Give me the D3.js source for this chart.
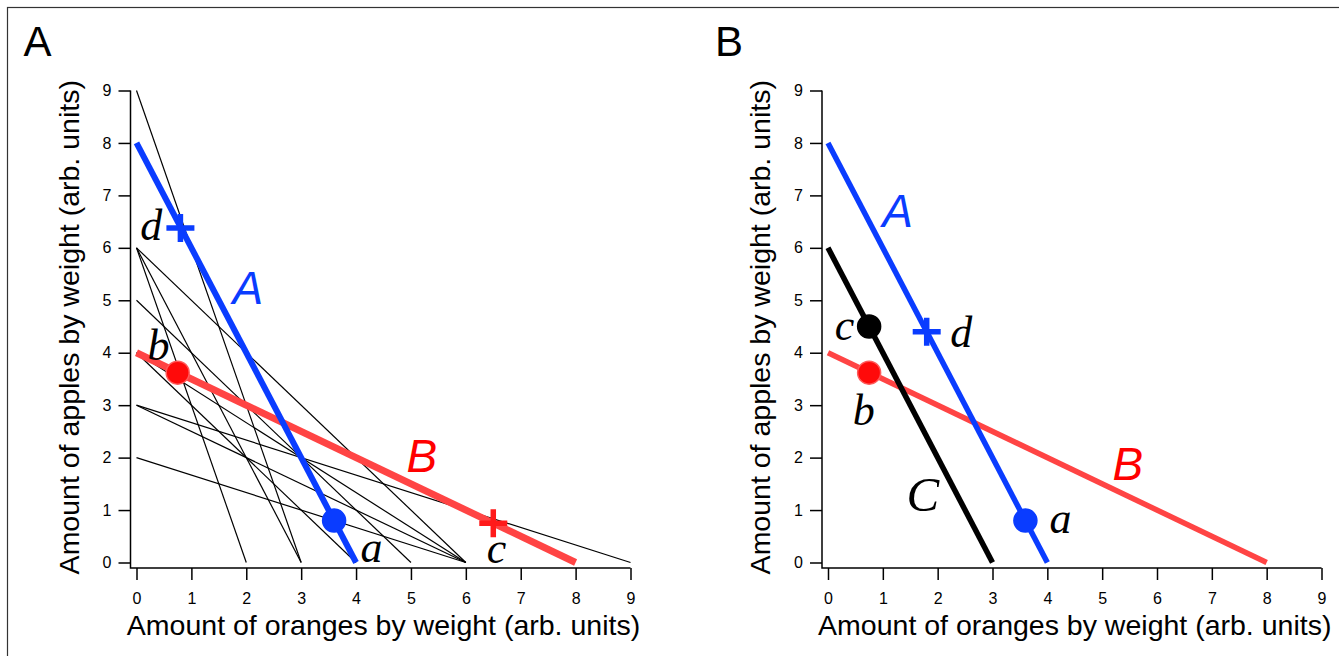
<!DOCTYPE html>
<html>
<head>
<meta charset="utf-8">
<script src="https://cdn.jsdelivr.net/npm/d3@7"></script>
<style>
  body { margin: 0; background: #fff; }
  svg text { font-family: "Liberation Sans", Arial, Helvetica, sans-serif; }
  .tick text { font-size: 16px; }
  .tick line { stroke: #000; stroke-width: 1.5; }
  .ttl { font-size: 28.5px; }
  .lbl { font-family: "Liberation Serif", "Times New Roman", serif !important; font-style: italic; font-size: 44px; }
  .lblC { font-family: "Liberation Serif", "Times New Roman", serif !important; font-style: italic; font-size: 49px; }
  .big { font-style: italic; font-size: 46px; }
</style>
</head>
<body>
<svg id="fig" width="1339" height="656"></svg>
<script>
const ticks = [0, 1, 2, 3, 4, 5, 6, 7, 8, 9];

// panel A thin lines: where each one meets the apples axis and the oranges axis
const thinApples  = [9, 6, 6, 6, 5, 4, 4, 3, 3, 2];
const thinOranges = [3, 2, 3, 6, 5, 4, 6, 6, 9, 6];

// budget lines [apples intercept, oranges intercept]
const lineA = [8, 4];
const lineB = [4, 8];
const lineC = [6, 3];

// points in panel A (a, b, c, d)
const ptA_x = [3.6, 0.75, 6.5, 0.8];
const ptA_y = [0.8, 3.62, 0.75, 6.38];
// points in panel B (a, b, c, d)
const ptB_x = [3.6, 0.75, 0.75, 1.8];
const ptB_y = [0.8, 3.62, 4.5, 4.4];

const blue = "#0a3cff", red = "#ff4444", redDot = "#ff0a0a";

const svg = d3.select("#fig");

// outer frame
svg.append("rect")
   .attr("x", 7.5).attr("y", 7.5).attr("width", 1340).attr("height", 660)
   .attr("fill", "none").attr("stroke", "#333").attr("stroke-width", 1.2);

const y = d3.scaleLinear([0, 9], [562.5, 90.5]);
const xA = d3.scaleLinear([0, 9], [136.5, 630.5]);
const xB = d3.scaleLinear([0, 9], [828, 1321.5]);
const axisY = 568;

function drawAxes(x, name) {
  const yAxisX = x(0) - 6;
  const gx = svg.append("g").attr("transform", `translate(0,${axisY})`)
     .call(d3.axisBottom(x).tickValues(ticks).tickSize(12).tickSizeOuter(0).tickPadding(13));
  const gy = svg.append("g").attr("transform", `translate(${yAxisX},0)`)
     .call(d3.axisLeft(y).tickValues(ticks).tickSize(12).tickSizeOuter(0).tickPadding(7));
  gx.select(".domain").remove();
  gy.select(".domain").remove();
  svg.append("path")
     .attr("d", `M${yAxisX},${y(9)}V${axisY}H${x(9)}`)
     .attr("fill", "none").attr("stroke", "#000").attr("stroke-width", 1.5);
  svg.selectAll(".tick text").attr("fill", "#000");

  svg.append("text").attr("class", "ttl")
     .attr("x", (yAxisX + x(9)) / 2 + 3).attr("y", 635)
     .attr("text-anchor", "middle")
     .text("Amount of oranges by weight (arb. units)");
  svg.append("text").attr("class", "ttl")
     .attr("transform", `translate(${yAxisX - 52},${(y(9) + axisY) / 2 - 2}) rotate(-90)`)
     .attr("text-anchor", "middle")
     .text("Amount of apples by weight (arb. units)");
  svg.append("text")
     .attr("x", yAxisX - 107).attr("y", 56)
     .attr("font-size", 42)
     .text(name);
}

function budget(x, ab, color, w) {
  svg.append("line")
     .attr("x1", x(0)).attr("y1", y(ab[0]))
     .attr("x2", x(ab[1])).attr("y2", y(0))
     .attr("stroke", color).attr("stroke-width", w);
}

function dot(x, px, py, fill, stroke) {
  svg.append("circle")
     .attr("cx", x(px)).attr("cy", y(py)).attr("r", 11.5)
     .attr("fill", fill).attr("stroke", stroke || fill).attr("stroke-width", 1.5);
}

function cross(x, px, py, color) {
  const cx = x(px), cy = y(py), h = 14;
  svg.append("path")
     .attr("d", `M${cx - h},${cy}H${cx + h}M${cx},${cy - h}V${cy + h}`)
     .attr("stroke", color).attr("stroke-width", 5.5).attr("fill", "none");
}

function label(x, px, py, txt, cls, color, anchor) {
  svg.append("text").attr("class", cls)
     .attr("x", x(px)).attr("y", y(py))
     .attr("text-anchor", anchor || "middle")
     .attr("fill", color || "#000")
     .text(txt);
}

// ---------- panel A ----------
drawAxes(xA, "A");

thinApples.forEach((a, i) => {
  svg.append("line")
     .attr("x1", xA(0)).attr("y1", y(a))
     .attr("x2", xA(thinOranges[i])).attr("y2", y(0))
     .attr("stroke", "#000").attr("stroke-width", 1.2);
});

budget(xA, lineB, red, 7);
budget(xA, lineA, blue, 6);

dot(xA, ptA_x[0], ptA_y[0], blue);
dot(xA, ptA_x[1], ptA_y[1], redDot, "#ff5a5a");
cross(xA, ptA_x[2], ptA_y[2], "#ff1a1a");
cross(xA, ptA_x[3], ptA_y[3], blue);

label(xA, 4.28, 0.01, "a", "lbl");
label(xA, 0.4, 3.86, "b", "lbl");
label(xA, 6.56, -0.01, "c", "lbl");
label(xA, 0.27, 6.15, "d", "lbl");
label(xA, 2.03, 4.93, "A", "big", blue);
label(xA, 5.2, 1.73, "B", "big", "#ff0000");

// ---------- panel B ----------
drawAxes(xB, "B");

budget(xB, lineB, red, 5.5);
budget(xB, lineC, "#000", 5.5);
budget(xB, lineA, blue, 5.5);

dot(xB, ptB_x[0], ptB_y[0], blue);
dot(xB, ptB_x[1], ptB_y[1], redDot, "#ff5a5a");
dot(xB, ptB_x[2], ptB_y[2], "#000");
cross(xB, ptB_x[3], ptB_y[3], blue);

label(xB, 4.24, 0.56, "a", "lbl");
label(xB, 0.65, 2.62, "b", "lbl");
label(xB, 0.30, 4.24, "c", "lbl");
label(xB, 2.43, 4.11, "d", "lbl");
label(xB, 1.27, 6.40, "A", "big", blue);
label(xB, 5.47, 1.57, "B", "big", "#ff0000");
label(xB, 1.73, 0.98, "C", "lblC");
</script>
</body>
</html>
